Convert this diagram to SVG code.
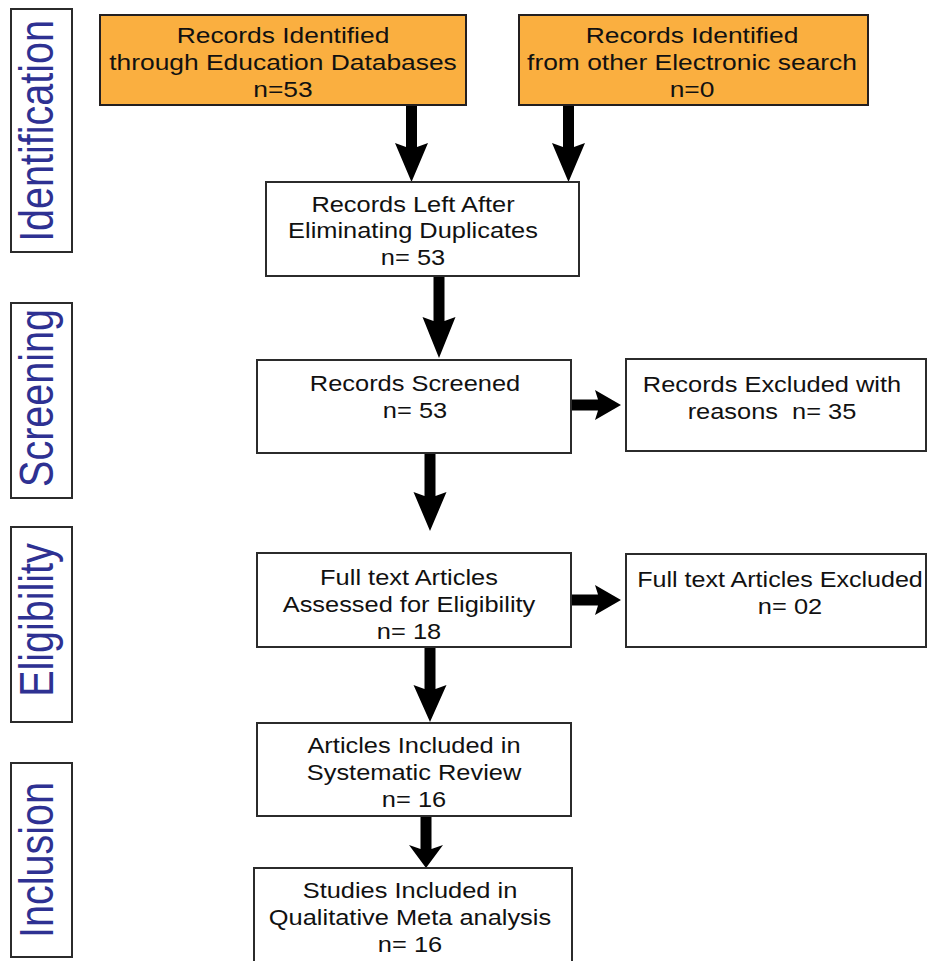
<svg xmlns="http://www.w3.org/2000/svg" width="927" height="961" viewBox="0 0 927 961">
<style>
.box{fill:#ffffff;stroke:#2b2b2b;stroke-width:2}
.org{fill:#FAAF40;stroke:#231f20;stroke-width:2}
.side{fill:#ffffff;stroke:#2b2b2b;stroke-width:2}
.t{font-family:"Liberation Sans",Arial,sans-serif;font-size:22px;fill:#111;text-anchor:middle}
.st{font-family:"Liberation Sans",Arial,sans-serif;font-size:39.5px;fill:#2E3192;text-anchor:middle}
.arr{fill:#000;stroke:none}
</style>
<rect width="927" height="961" fill="#ffffff"/>

<g id="lbl-identification">
<rect class="side" x="11" y="9" width="61" height="243"/>
<text class="st" transform="translate(53 131) rotate(-90) scale(1 1.22)">Identification</text>
</g>
<g id="lbl-screening">
<rect class="side" x="11" y="303" width="61" height="195"/>
<text class="st" transform="translate(53 398) rotate(-90) scale(1 1.22)">Screening</text>
</g>
<g id="lbl-eligibility">
<rect class="side" x="11" y="527" width="61" height="195"/>
<text class="st" transform="translate(53 620) rotate(-90) scale(1 1.22)">Eligibility</text>
</g>
<g id="lbl-inclusion">
<rect class="side" x="11" y="763" width="61" height="194"/>
<text class="st" transform="translate(53 860) rotate(-90) scale(1 1.22)">Inclusion</text>
</g>

<g id="connectors">
<polygon class="arr" points="406,105 417,105 417,147 428,143 411.5,182 395,143 406,147"/>
<polygon class="arr" points="563,105 574,105 574,147 585,143 568.5,182 552,143 563,147"/>
<polygon class="arr" points="433.5,277 444.5,277 444.5,321 455.5,317 439,358 422.5,317 433.5,321"/>
<polygon class="arr" points="424.5,454 435.5,454 435.5,496 446.5,492 430,531 413.5,492 424.5,496"/>
<polygon class="arr" points="424.5,648 435.5,648 435.5,689 446.5,685 430,722 413.5,685 424.5,689"/>
<polygon class="arr" points="420.5,817 431.5,817 431.5,849 443,845 426,868 409,845 420.5,849"/>
<polygon class="arr" points="572,399.5 572,410.5 598,410.5 595,420 621,405 595,390 598,399.5"/>
<polygon class="arr" points="572,594.5 572,605.5 598,605.5 595,615 621,600 595,585 598,594.5"/>
</g>

<g id="n-databases">
<rect class="org" x="100" y="15" width="366" height="90"/>
<text class="t" transform="translate(283 0) scale(1.2 1)"><tspan x="0" y="43">Records Identified</tspan><tspan x="0" y="70">through Education Databases</tspan><tspan x="0" y="97">n=53</tspan></text>
</g>
<g id="n-other">
<rect class="org" x="519" y="15" width="349" height="90"/>
<text class="t" transform="translate(692 0) scale(1.2 1)"><tspan x="0" y="43">Records Identified</tspan><tspan x="0" y="70">from other Electronic search</tspan><tspan x="0" y="97">n=0</tspan></text>
</g>
<g id="n-duplicates">
<rect class="box" x="266" y="182" width="313" height="94"/>
<text class="t" transform="translate(413 0) scale(1.155 1)"><tspan x="0" y="212">Records Left After</tspan><tspan x="0" y="238">Eliminating Duplicates</tspan><tspan x="0" y="265">n= 53</tspan></text>
</g>
<g id="n-screened">
<rect class="box" x="257" y="360" width="314" height="93"/>
<text class="t" transform="translate(415 0) scale(1.155 1)"><tspan x="0" y="391">Records Screened</tspan><tspan x="0" y="418">n= 53</tspan></text>
</g>
<g id="n-excluded1">
<rect class="box" x="626" y="359" width="300" height="92"/>
<text class="t" transform="translate(772 0) scale(1.155 1)"><tspan x="0" y="392">Records Excluded with</tspan><tspan x="0" y="419" xml:space="preserve">reasons  n= 35</tspan></text>
</g>
<g id="n-fulltext">
<rect class="box" x="257" y="553" width="314" height="94"/>
<text class="t" transform="translate(409 0) scale(1.155 1)"><tspan x="0" y="585">Full text Articles</tspan><tspan x="0" y="612">Assessed for Eligibility</tspan><tspan x="0" y="639">n= 18</tspan></text>
</g>
<g id="n-excluded2">
<rect class="box" x="626" y="554" width="300" height="93"/>
<text class="t" transform="translate(780 0) scale(1.14 1)"><tspan x="0" y="587">Full text Articles Excluded</tspan></text>
<text class="t" transform="translate(790 0) scale(1.155 1)"><tspan x="0" y="614">n= 02</tspan></text>
</g>
<g id="n-review">
<rect class="box" x="257" y="723" width="314" height="93"/>
<text class="t" transform="translate(414 0) scale(1.155 1)"><tspan x="0" y="753">Articles Included in</tspan><tspan x="0" y="780">Systematic Review</tspan><tspan x="0" y="807">n= 16</tspan></text>
</g>
<g id="n-meta">
<rect class="box" x="254" y="868" width="318" height="100"/>
<text class="t" transform="translate(410 0) scale(1.155 1)"><tspan x="0" y="898">Studies Included in</tspan><tspan x="0" y="925">Qualitative Meta analysis</tspan><tspan x="0" y="952">n= 16</tspan></text>
</g>
</svg>
